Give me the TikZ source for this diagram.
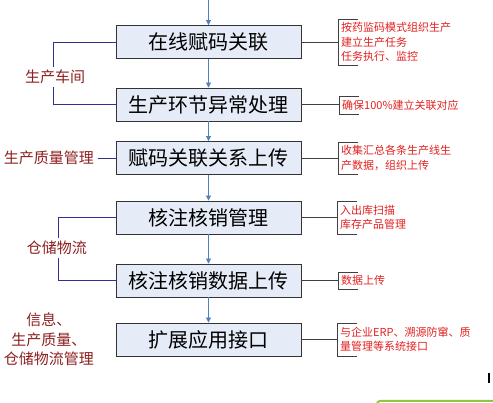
\documentclass[tikz,border=0pt]{standalone}
\usepackage{fontspec}
\setmainfont{Noto Sans CJK SC}
\usetikzlibrary{arrows.meta,positioning,calc}
\definecolor{stepfill}{RGB}{230,236,247}
\definecolor{flowblue}{RGB}{79,129,189}
\definecolor{groupnavy}{RGB}{46,49,146}
\definecolor{notered}{RGB}{226,32,32}
\definecolor{labelred}{RGB}{140,32,32}
\definecolor{edgegreen}{RGB}{141,198,63}
\tikzset{
  stepbox/.style={draw=black!80, fill=stepfill, line width=0.9pt, minimum width=185,
                  minimum height=33, inner sep=0pt, font=\fontsize{20}{23}\selectfont},
  flow/.style={-{Triangle[length=5pt, width=5pt]}, draw=flowblue, line width=0.9pt},
  groupline/.style={draw=groupnavy, line width=0.9pt},
  noteline/.style={draw=black!75, line width=0.9pt},
  notetext/.style={font=\fontsize{11}{14.5}\selectfont, text=notered, align=left,
                   anchor=west, inner sep=0pt},
  grouplabel/.style={font=\fontsize{15}{19.5}\selectfont, text=labelred, align=center},
}

\begin{document}
\begin{tikzpicture}[x=1pt, y=-1pt]
\useasboundingbox (0,0) rectangle (493,403);

% ---------------- process steps ----------------
\coordinate (top) at (208.5,0);
\foreach \i/\y/\txt in {1/42/在线赋码关联, 2/104.5/生产环节异常处理,
                        3/158/赋码关联关系上传, 4/217.5/核注核销管理,
                        5/280.5/核注核销数据上传, 6/339.5/扩展应用接口} {
  \node[stepbox] (S\i) at (208.5,\y) {\txt};
}
\draw[flow] (top) -- (S1.north);
\foreach \i/\j in {1/2, 2/3, 3/4, 4/5, 5/6}
  \draw[flow] (S\i.south) -- (S\j.north);

% ---------------- notes on the right ----------------
\foreach \i/\x/\ya/\yb/\txt in {%
    1/338/19/65/{按药监码模式组织生产\\建立生产任务\\任务执行、监控},
    2/339/96/114/{确保100\%建立关联对应},
    3/338/142/174/{收集汇总各条生产线生\\产数据，组织上传},
    4/337/201/234/{入出库扫描\\库存产品管理},
    5/338/272/289/{数据上传},
    6/337/323/356/{与企业ERP、溯源防窜、质\\量管理等系统接口}} {
  \coordinate (Nt\i) at (\x,\ya);
  \coordinate (Nb\i) at (\x,\yb);
  \draw[noteline] (S\i.east) -- (S\i.east -| Nt\i);
  \draw[noteline] ([xshift=20]Nt\i) -- (Nt\i) -- (Nb\i) -- ([xshift=20]Nb\i);
  \node[notetext] (N\i) at ($(Nt\i)!0.5!(Nb\i)+(3,0)$) {\txt};
}

% ---------------- groups on the left ----------------
\coordinate (g1) at (53,0);
\coordinate (g2) at (58,0);
\draw[groupline] (S1.west) -- (S1.west -| g1) -- (S2.west -| g1) -- (S2.west);
\node[grouplabel, fill=white, inner sep=3pt] (workshop) at (55,77) {生产车间};

\node[grouplabel] (quality) at (49,158) {生产质量管理};
\draw[groupline] (quality.east) -- (S3.west);

\draw[groupline] (S4.west) -- (S4.west -| g2) -- (S5.west -| g2) -- (S5.west);
\node[grouplabel, fill=white, inner sep=3pt] (storage) at (57,248) {仓储物流};

\node[grouplabel] (summary) at (49,339.5) {信息、\\生产质量、\\仓储物流管理};

% ---------------- cut edge of the screenshot ----------------
\draw[edgegreen, line width=2pt, rounded corners=3pt] (377,420) -- (377,401) -- (500,401);
\draw[black, line width=1.5pt] (489,373) -- (489,383);
\end{tikzpicture}
\end{document}
